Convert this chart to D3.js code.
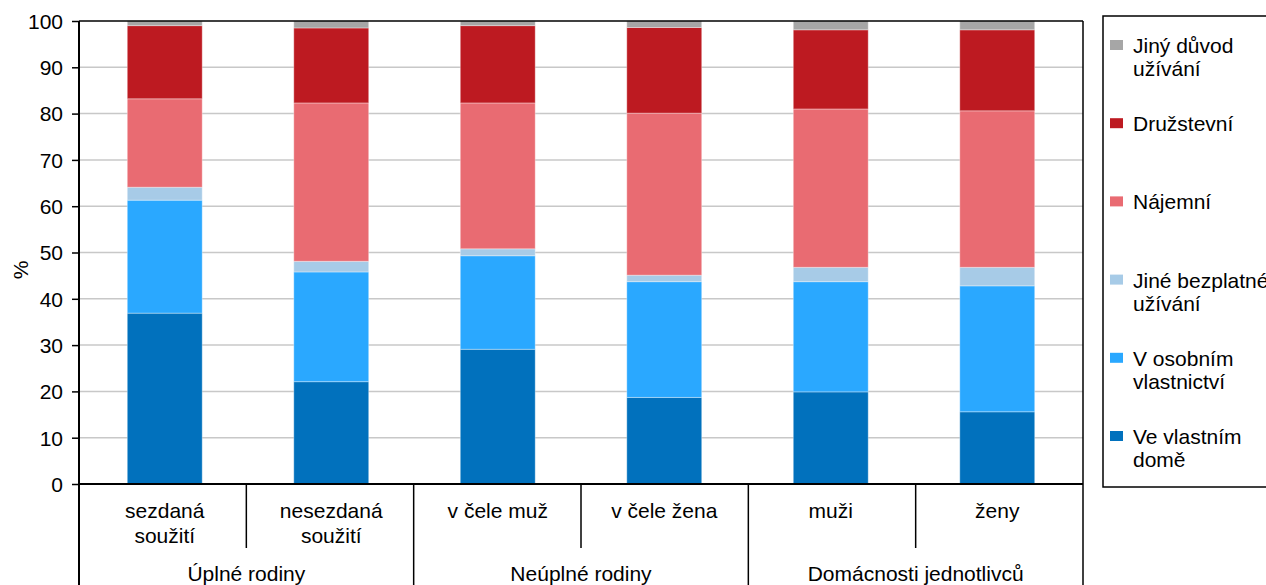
<!DOCTYPE html>
<html>
<head>
<meta charset="utf-8">
<script src="https://cdn.jsdelivr.net/npm/d3@7"></script>
<style>
  body { margin: 0; background: #fff; }
  svg text { font-family: "Liberation Sans", Arial, sans-serif; fill: #000; }
</style>
</head>
<body>
<svg id="chart" width="1266" height="585"></svg>
<script>
// categories (two-line labels) and their groups
const categories = [["sezdaná", "soužití"], ["nesezdaná", "soužití"], ["v čele muž"], ["v čele žena"], ["muži"], ["ženy"]];
const groups = ["Úplné rodiny", "Neúplné rodiny", "Domácnosti jednotlivců"];
const yTicks = [0, 10, 20, 30, 40, 50, 60, 70, 80, 90, 100];

// series, bottom to top (%)
const veVlastnimDome = [36.9, 22.1, 29.1, 18.7, 19.9, 15.6];
const vOsobnimVlastnictvi = [24.4, 23.7, 20.2, 25.0, 23.8, 27.2];
const jineBezplatne = [2.8, 2.3, 1.5, 1.4, 3.1, 4.0];
const najemni = [19.1, 34.2, 31.5, 35.0, 34.2, 33.8];
const druzstevni = [15.8, 16.2, 16.7, 18.5, 17.1, 17.5];
const jinyDuvod = [1.0, 1.5, 1.0, 1.4, 1.9, 1.9];

const seriesNames = [["Ve vlastním", "domě"], ["V osobním", "vlastnictví"], ["Jiné bezplatné", "užívání"], ["Nájemní"], ["Družstevní"], ["Jiný důvod", "užívání"]];
const seriesColors = ["#0171bd", "#2aa8ff", "#a7cbe7", "#e96b72", "#bd1a21", "#a6a6a6"];

const svg = d3.select("#chart");
const plotLeft = 79, plotRight = 1083, plotTop = 21, plotBottom = 484;
const fontSize = "21px";

const keys = d3.range(seriesNames.length);
const allSeries = [veVlastnimDome, vOsobnimVlastnictvi, jineBezplatne, najemni, druzstevni, jinyDuvod];
const table = categories.map((c, i) => {
  const row = { idx: i };
  keys.forEach(k => row[k] = allSeries[k][i]);
  return row;
});
const stacked = d3.stack().keys(keys)(table);

const x = d3.scaleBand().domain(d3.range(categories.length)).range([plotLeft, plotRight])
  .paddingInner(0.55).paddingOuter(0.29);
const y = d3.scaleLinear().domain([0, 100]).range([plotBottom, plotTop]);

// Grid lines
svg.append("g").selectAll("line").data(yTicks.filter(d => d > 0 && d < 100)).enter().append("line")
  .attr("x1", plotLeft).attr("x2", plotRight)
  .attr("y1", d => y(d)).attr("y2", d => y(d))
  .style("stroke", "#c8c8c8").style("stroke-width", 1.5);

// Bars
svg.append("g").selectAll("g").data(stacked).enter().append("g")
  .style("fill", d => seriesColors[d.key])
  .selectAll("rect").data(d => d).enter().append("rect")
  .attr("x", d => x(d.data.idx))
  .attr("y", d => y(d[1]))
  .attr("width", x.bandwidth())
  .attr("height", d => y(d[0]) - y(d[1]))
  .style("stroke", "rgba(255,255,255,0.35)")
  .style("stroke-width", 1);

// Y axis
const yAxis = d3.axisLeft(y).tickValues(yTicks).tickSize(7).tickPadding(9);
const yg = svg.append("g").attr("transform", `translate(${plotLeft},0)`).call(yAxis);
yg.select(".domain").remove();
yg.selectAll(".tick line").style("stroke", "#000").style("stroke-width", 1.5);
yg.selectAll("text").style("font-size", fontSize).style("font-family", "Liberation Sans, Arial, sans-serif").attr("dy", "0.35em");

// Frame: left axis, top, right, bottom
svg.append("line").attr("x1", plotLeft).attr("x2", plotLeft).attr("y1", plotTop).attr("y2", 585)
  .style("stroke", "#000").style("stroke-width", 2);
svg.append("line").attr("x1", plotRight).attr("x2", plotRight).attr("y1", plotTop).attr("y2", 585)
  .style("stroke", "#000").style("stroke-width", 1.5);
svg.append("line").attr("x1", plotLeft).attr("x2", plotRight).attr("y1", plotTop).attr("y2", plotTop)
  .style("stroke", "#000").style("stroke-width", 1.5);
svg.append("line").attr("x1", plotLeft).attr("x2", plotRight).attr("y1", plotBottom).attr("y2", plotBottom)
  .style("stroke", "#000").style("stroke-width", 2);

// Y label
svg.append("text")
  .attr("transform", "translate(28,270) rotate(-90)")
  .attr("text-anchor", "middle")
  .style("font-size", fontSize)
  .text("%");

// Category dividers
const boundaries = d3.range(1, categories.length);
svg.append("g").selectAll("line").data(boundaries).enter().append("line")
  .attr("x1", d => plotLeft + d * (plotRight - plotLeft) / categories.length)
  .attr("x2", d => plotLeft + d * (plotRight - plotLeft) / categories.length)
  .attr("y1", plotBottom)
  .attr("y2", d => d % 2 === 0 ? 585 : 548)
  .style("stroke", "#000").style("stroke-width", 1.5);

// Category labels
const catLabels = svg.append("g").selectAll("text").data(categories).enter().append("text")
  .attr("text-anchor", "middle")
  .attr("x", (d, i) => x(i) + x.bandwidth() / 2)
  .attr("y", 518)
  .style("font-size", fontSize);
catLabels.selectAll("tspan").data(d => d).enter().append("tspan")
  .attr("x", function() { return d3.select(this.parentNode).attr("x"); })
  .attr("dy", (d, i) => i === 0 ? 0 : 25)
  .text(d => d);

// Group labels
svg.append("g").selectAll("text").data(groups).enter().append("text")
  .attr("text-anchor", "middle")
  .attr("x", (d, i) => plotLeft + (i * 2 + 1) * (plotRight - plotLeft) / categories.length)
  .attr("y", 581)
  .style("font-size", fontSize)
  .text(d => d);

// Legend
svg.append("rect").attr("x", 1103).attr("y", 16).attr("width", 200).attr("height", 471)
  .style("fill", "none").style("stroke", "#000").style("stroke-width", 1.5);
const legendOrder = keys.slice().reverse();
const ly = d3.scalePoint().domain(legendOrder).range([45, 436]);
const items = svg.append("g").selectAll("g").data(legendOrder).enter().append("g")
  .attr("transform", d => `translate(1110,${ly(d)})`);
items.append("rect").attr("x", 0).attr("y", -5).attr("width", 13).attr("height", 10)
  .style("fill", d => seriesColors[d]);
const lt = items.append("text").attr("x", 23).attr("y", 8).style("font-size", fontSize);
lt.selectAll("tspan").data(d => seriesNames[d]).enter().append("tspan")
  .attr("x", 23).attr("dy", (d, i) => i === 0 ? 0 : 23)
  .text(d => d);
</script>
</body>
</html>
